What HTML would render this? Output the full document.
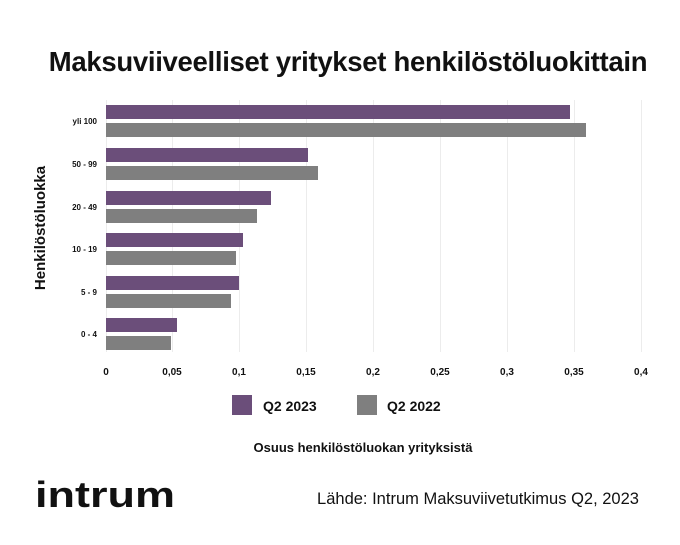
<!DOCTYPE html>
<html><head><meta charset="utf-8"><style>
body{margin:0;background:#fff;}
svg{display:block;font-family:"Liberation Sans",sans-serif;}
</style></head><body>
<svg width="680" height="545" viewBox="0 0 680 545" xmlns="http://www.w3.org/2000/svg">
<rect width="680" height="545" fill="#fff"/>
<text x="348" y="71" text-anchor="middle" font-size="27.5" font-weight="bold" fill="#111" letter-spacing="-0.3">Maksuviiveelliset yritykset henkilöstöluokittain</text>
<g stroke="#ececec" stroke-width="1">
<line x1="106.5" y1="100" x2="106.5" y2="352"/><line x1="172.5" y1="100" x2="172.5" y2="352"/><line x1="239.5" y1="100" x2="239.5" y2="352"/><line x1="306.5" y1="100" x2="306.5" y2="352"/><line x1="373.5" y1="100" x2="373.5" y2="352"/><line x1="440.5" y1="100" x2="440.5" y2="352"/><line x1="507.5" y1="100" x2="507.5" y2="352"/><line x1="574.5" y1="100" x2="574.5" y2="352"/><line x1="641.5" y1="100" x2="641.5" y2="352"/>
</g>
<g fill="#6b4e7a">
<rect x="106" y="105" width="464" height="14"/>
<rect x="106" y="148" width="202" height="14"/>
<rect x="106" y="191" width="165" height="14"/>
<rect x="106" y="233" width="137" height="14"/>
<rect x="106" y="276" width="133" height="14"/>
<rect x="106" y="318" width="71" height="14"/>
</g>
<g fill="#7f7f7f">
<rect x="106" y="123" width="480" height="14"/>
<rect x="106" y="166" width="212" height="14"/>
<rect x="106" y="209" width="151" height="14"/>
<rect x="106" y="251" width="130" height="14"/>
<rect x="106" y="294" width="125" height="14"/>
<rect x="106" y="336" width="65" height="14"/>
</g>
<g font-size="8" font-weight="bold" fill="#111" text-anchor="end">
<text x="97" y="124">yli 100</text>
<text x="97" y="167">50 - 99</text>
<text x="97" y="210">20 - 49</text>
<text x="97" y="252">10 - 19</text>
<text x="97" y="295">5 - 9</text>
<text x="97" y="337">0 - 4</text>
</g>
<g font-size="10" font-weight="bold" fill="#111" text-anchor="middle">
<text x="106" y="375">0</text><text x="172" y="375">0,05</text><text x="239" y="375">0,1</text><text x="306" y="375">0,15</text><text x="373" y="375">0,2</text><text x="440" y="375">0,25</text><text x="507" y="375">0,3</text><text x="574" y="375">0,35</text><text x="641" y="375">0,4</text>
</g>
<text transform="translate(45,228) rotate(-90)" text-anchor="middle" font-size="15" font-weight="bold" fill="#111">Henkilöstöluokka</text>
<rect x="232" y="395" width="20" height="20" fill="#6b4e7a"/>
<text x="263" y="411" font-size="14" font-weight="bold" fill="#111">Q2 2023</text>
<rect x="357" y="395" width="20" height="20" fill="#7f7f7f"/>
<text x="387" y="411" font-size="14" font-weight="bold" fill="#111">Q2 2022</text>
<text x="363" y="452" text-anchor="middle" font-size="13" font-weight="bold" fill="#111">Osuus henkilöstöluokan yrityksistä</text>
<text x="35" y="507" font-size="36" font-weight="bold" fill="#111" textLength="140" lengthAdjust="spacingAndGlyphs">intrum</text>
<text x="478" y="504" text-anchor="middle" font-size="16.5" fill="#111">Lähde: Intrum Maksuviivetutkimus Q2, 2023</text>
</svg>
</body></html>
